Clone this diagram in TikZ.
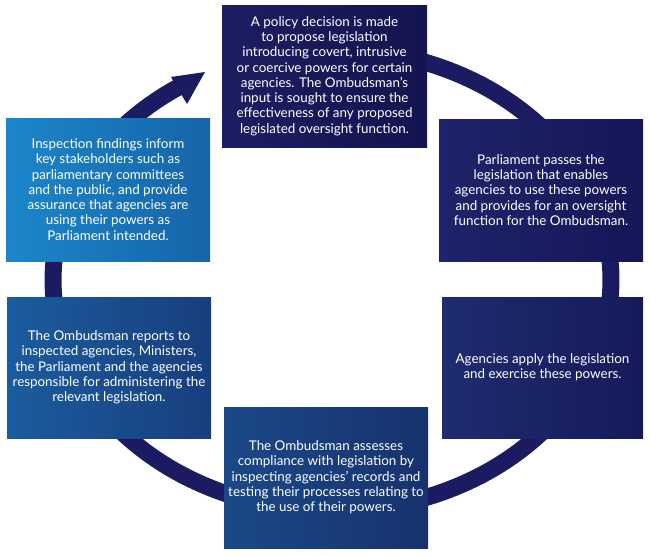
\documentclass[tikz,border=0pt]{standalone}
\usepackage{fontspec}
\setmainfont{Lato}
\definecolor{ring}{HTML}{1B1B62}
\tikzset{
  stage/.style={inner sep=0pt, text=white, align=center, font=\fontsize{13.4}{15.3}\selectfont},
}
\begin{document}
\begin{tikzpicture}[x=1pt,y=-1pt]
\useasboundingbox (0,0) rectangle (650,555);
% cycle ring
\draw[ring, line width=17pt]
  plot[domain=-80:237, samples=160] ({332+279*cos(\x)},{280+231*sin(\x)});
% arrow head
\coordinate (tip) at (205,72);
\fill[ring] (tip) -- (171,77) -- (187,104) -- cycle;
% boxes
\shade[left color={rgb,255:red,29;green,29;blue,98}, right color={rgb,255:red,20;green,20;blue,80}] (222,5) rectangle (427,147);
\shade[left color={rgb,255:red,30;green,36;blue,106}, right color={rgb,255:red,21;green,22;blue,88}] (439,119) rectangle (643,261);
\shade[left color={rgb,255:red,30;green,44;blue,112}, right color={rgb,255:red,22;green,26;blue,90}] (442,297) rectangle (643,438);
\shade[left color={rgb,255:red,27;green,72;blue,136}, right color={rgb,255:red,23;green,50;blue,110}] (224,407) rectangle (428,548);
\shade[left color={rgb,255:red,27;green,92;blue,158}, right color={rgb,255:red,24;green,62;blue,126}] (7,297) rectangle (211,438);
\shade[left color={rgb,255:red,28;green,134;blue,202}, right color={rgb,255:red,22;green,100;blue,168}] (6,118) rectangle (210,261);
% texts
\node[stage] (s1) at (324.5,76) {A policy decision is made\\to propose legislation\\introducing covert, intrusive\\or coercive powers for certain\\agencies. The Ombudsman’s\\input is sought to ensure the\\effectiveness of any proposed\\legislated oversight function.};
\node[stage] (s2) at (541,190) {Parliament passes the\\legislation that enables\\agencies to use these powers\\and provides for an oversight\\function for the Ombudsman.};
\node[stage] (s3) at (542.5,367.5) {Agencies apply the legislation\\and exercise these powers.};
\node[stage] (s4) at (326,477.5) {The Ombudsman assesses\\compliance with legislation by\\inspecting agencies’ records and\\testing their processes relating to\\the use of their powers.};
\node[stage] (s5) at (109,367.5) {The Ombudsman reports to\\inspected agencies, Ministers,\\the Parliament and the agencies\\responsible for administering the\\relevant legislation.};
\node[stage] (s6) at (108,189.5) {Inspection findings inform\\key stakeholders such as\\parliamentary committees\\and the public, and provide\\assurance that agencies are\\using their powers as\\Parliament intended.};
\end{tikzpicture}
\end{document}
